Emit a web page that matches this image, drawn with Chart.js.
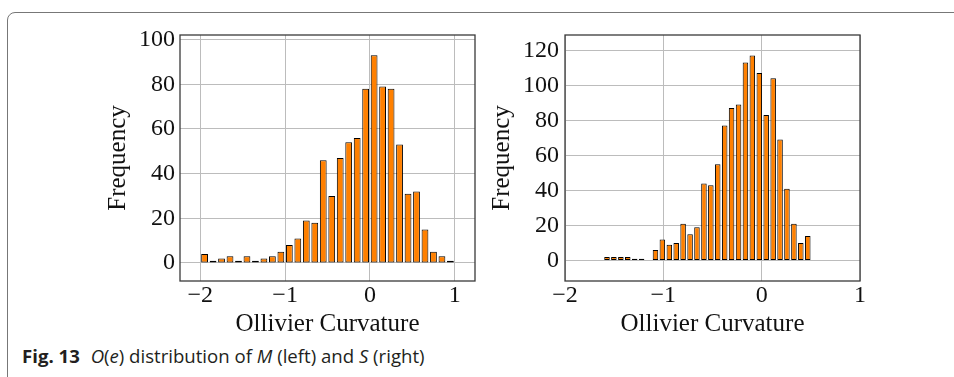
<!DOCTYPE html>
<html>
<head>
<meta charset="utf-8">
<script src="https://cdn.jsdelivr.net/npm/chart.js@4.4.0/dist/chart.umd.min.js"></script>
<style>
  body { margin: 0; background: #fff; width: 954px; height: 377px; overflow: hidden; position: relative; }
  #frame { position: absolute; left: 7px; top: 12px; width: 1000px; height: 420px; border: 1.5px solid #777; border-radius: 8px; box-sizing: border-box; }
  #leftChart { position: absolute; left: 80px; top: 0; }
  #rightChart { position: absolute; left: 480px; top: 0; }
  #caption { position: absolute; left: 22px; top: 345px; font-family: "Open Sans", sans-serif; font-size: 18.6px; line-height: 22px; color: #231f20; white-space: nowrap; }
  #caption b { font-weight: 700; margin-right: 6px; }
</style>
</head>
<body>
<div id="frame"></div>
<canvas id="leftChart" width="420" height="340"></canvas>
<canvas id="rightChart" width="474" height="340"></canvas>
<div id="caption"><b>Fig. 13</b> <i>O</i>(<i>e</i>) distribution of <i>M</i> (left) and <i>S</i> (right)</div>

<script>
'use strict';

// M (left): bin centres and counts
var leftBins = [-1.95, -1.85, -1.75, -1.65, -1.55, -1.45, -1.35, -1.25, -1.15, -1.05,
                -0.95, -0.85, -0.75, -0.65, -0.55, -0.45, -0.35, -0.25, -0.15, -0.05,
                 0.05,  0.15,  0.25,  0.35,  0.45,  0.55,  0.65,  0.75,  0.85,  0.95];
var leftFreq = [4, 1, 2, 3, 1, 3, 1, 2, 3, 5,
                8, 11, 19, 18, 46, 30, 47, 54, 56, 78,
                93, 79, 78, 53, 31, 32, 15, 5, 3, 1];

// S (right): bin centres and counts
var rightBins = [-1.573, -1.503, -1.432, -1.362, -1.291, -1.221, -1.151, -1.080, -1.010, -0.939,
                 -0.869, -0.799, -0.728, -0.658, -0.587, -0.517, -0.447, -0.376, -0.306, -0.235,
                 -0.165, -0.095, -0.024,  0.046,  0.117,  0.187,  0.257,  0.328,  0.398,  0.469];
var rightFreq = [2, 2, 2, 2, 1, 1, 0, 6, 12, 9,
                 10, 21, 15, 19, 44, 43, 55, 77, 87, 89,
                 113, 117, 107, 83, 104, 69, 41, 21, 10, 14];

var xTicks = [-2, -1, 0, 1];
var leftYTicks = [0, 20, 40, 60, 80, 100];
var rightYTicks = [0, 20, 40, 60, 80, 100, 120];

var xTitle = 'Ollivier Curvature';
var yTitle = 'Frequency';

var serif = 'Liberation Serif';

// pgfplots-like closed axis box
var boxPlugin = {
    id: 'box',
    afterDraw: function (chart) {
        var ctx = chart.ctx, a = chart.chartArea;
        ctx.save();
        ctx.strokeStyle = '#3a3a3a';
        ctx.lineWidth = 1.3;
        ctx.strokeRect(a.left, a.top, a.right - a.left, a.bottom - a.top);
        ctx.restore();
    }
};

function makeHist(id, bins, freq, opt) {
    var points = bins.map(function (b, i) { return { x: b, y: freq[i] }; });
    return new Chart(document.getElementById(id), {
        type: 'bar',
        data: {
            datasets: [{
                data: points,
                backgroundColor: '#ff8000',
                borderColor: '#000',
                borderWidth: 1,
                borderSkipped: false,
                barPercentage: 0.8,
                categoryPercentage: 1
            }]
        },
        options: {
            responsive: false,
            animation: false,
            devicePixelRatio: 1,
            layout: { padding: { left: 0, top: 35, right: opt.padRight, bottom: 0 } },
            plugins: { legend: { display: false }, tooltip: { enabled: false } },
            scales: {
                x: {
                    type: 'linear',
                    min: opt.xMin, max: opt.xMax,
                    offset: false,
                    afterBuildTicks: function (s) { s.ticks = xTicks.map(function (v) { return { value: v }; }); },
                    afterFit: function (s) { s.height = 59; },
                    grid: { color: '#bcbcbc', lineWidth: 1, drawTicks: false, offset: false },
                    border: { display: false },
                    ticks: {
                        padding: 3,
                        color: '#111',
                        font: { family: serif, size: 24, lineHeight: 1 },
                        callback: function (v) { return String(v).replace('-', '\u2212'); }
                    },
                    title: {
                        display: true, text: xTitle, color: '#111',
                        font: { family: serif, size: 25, lineHeight: 1 },
                        padding: { top: 0, bottom: 3 }
                    }
                },
                y: {
                    min: opt.yMin, max: opt.yMax,
                    afterBuildTicks: function (s) { s.ticks = opt.yTicks.map(function (v) { return { value: v }; }); },
                    afterFit: function (s) { s.width = opt.yWidth; },
                    grid: { color: '#bcbcbc', lineWidth: 1, drawTicks: false },
                    border: { display: false },
                    ticks: {
                        padding: opt.yPad,
                        color: '#111',
                        font: { family: serif, size: 24, lineHeight: 1 }
                    },
                    title: {
                        display: true, text: yTitle, color: '#111',
                        font: { family: serif, size: 25, lineHeight: 1 },
                        padding: { top: opt.titlePad, bottom: 0 }
                    }
                }
            }
        },
        plugins: [boxPlugin]
    });
}

makeHist('leftChart', leftBins, leftFreq, {
    xMin: -2.24, xMax: 1.24, yMin: -8.06, yMax: 102.06,
    yTicks: leftYTicks, yWidth: 100, yPad: 5, titlePad: 25.5, padRight: 25
});

makeHist('rightChart', rightBins, rightFreq, {
    xMin: -2, xMax: 1, yMin: -11.7, yMax: 128.7,
    yTicks: rightYTicks, yWidth: 85, yPad: 6, titlePad: 10.2, padRight: 94
});
</script>
</body>
</html>
